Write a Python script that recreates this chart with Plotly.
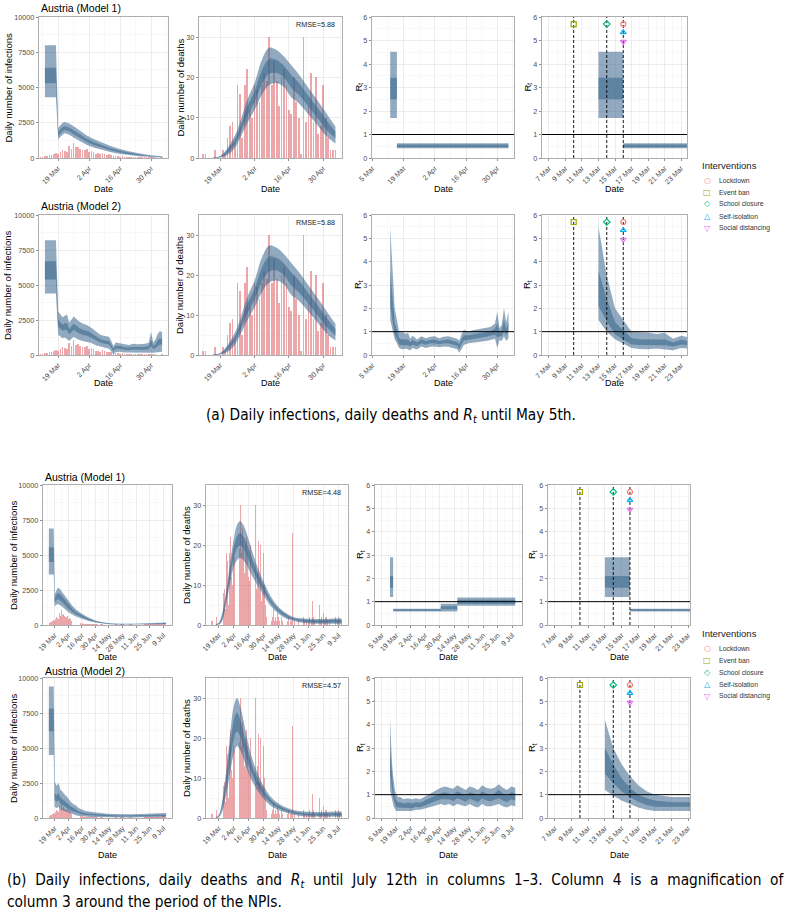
import plotly.graph_objects as go
import pandas as pd

W, H = 791, 916
FONT = "Liberation Sans, Arial, Helvetica, sans-serif"
CAPFONT = "Liberation Sans Narrow, DejaVu Sans Condensed, Liberation Sans, sans-serif"


def D(s):
    return "2020-" + s


def Ds(lst):
    return [D(s) for s in lst]


# ---------------- observed data ----------------
cases_start = "03-11"
cases = [60, 100, 130, 150, 190, 200, 300, 330, 310, 420, 560, 520, 400, 850, 620, 1050, 750, 800, 660, 600, 580,
         630, 420, 520, 400, 280, 320, 250, 330, 300, 240, 250, 180, 110, 130, 160, 90, 110, 80, 60, 70, 80, 70, 60,
         50, 60, 40, 50, 40, 60, 40,
         40, 45, 30, 35, 40, 50, 45, 35, 40, 30, 25, 30, 40, 45, 35, 30, 25, 20, 30, 35, 40, 45, 35, 30, 25, 40, 55,
         50, 45, 30, 25,
         20, 25, 30, 40, 45, 50, 35, 30, 35, 40, 45, 50, 40, 35, 40, 30, 45, 50, 60, 55, 40, 45, 60, 70, 65, 50, 60,
         80, 70, 55,
         75, 90, 110, 100, 80, 85, 100, 120, 130, 110, 95, 100]

deaths_start = "03-12"
deaths = [1, 1, 0, 0, 0, 2, 0, 0, 2, 1, 5, 8, 9, 4, 18, 16, 5, 18, 22, 12,
          10, 18, 17, 14, 18, 21, 19, 30, 18, 24, 19, 13, 20, 22, 18, 12, 11, 20, 14, 10, 1, 30, 9, 13, 21, 9, 20,
          6, 8, 18,
          10, 5, 2, 2, 2, 3, 1, 2, 4, 1, 2, 1, 3, 2, 1, 0, 2, 1, 2, 1, 0, 1, 2, 0, 1, 1, 23, 0, 1, 0, 0,
          0, 1, 0, 1, 0, 2, 1, 0, 1, 0, 1, 2, 0, 1, 6, 2, 1, 0, 2, 1, 5, 1, 2, 0, 3, 1, 2, 2, 1, 0,
          1, 2, 0, 1, 1, 2, 0, 1, 2, 1, 0, 1]

cut_a = "2020-05-05"   # end of period (a)

# ---------------- model estimates ----------------
# (a) Model 1 infections
inf_a1_dates = ["03-13", "03-18", "03-19", "03-20", "03-21", "03-22", "03-24", "03-26", "03-29", "04-01", "04-04",
                "04-08", "04-12", "04-16", "04-20", "04-25", "04-30", "05-05"]
inf_a1_lo95 = [4300, 4300, 1330, 1500, 1650, 1750, 1650, 1450, 1180, 930, 740, 560, 400, 280, 190, 120, 70, 40]
inf_a1_lo50 = [5300, 5300, 1580, 1750, 1900, 1990, 1890, 1690, 1400, 1130, 920, 720, 530, 390, 270, 180, 105, 65]
inf_a1_hi50 = [6400, 6400, 1860, 2050, 2200, 2270, 2170, 1970, 1650, 1370, 1140, 900, 680, 510, 370, 250, 150, 95]
inf_a1_hi95 = [8000, 8000, 2150, 2350, 2500, 2550, 2450, 2250, 1900, 1600, 1350, 1080, 830, 640, 470, 320, 190, 120]

# (a) Model 2 infections
inf_a2_dates = ["03-13", "03-18", "03-19", "03-20", "03-21", "03-22", "03-23", "03-24", "03-25", "03-26", "03-27",
                "03-28", "03-30", "04-01", "04-03", "04-05", "04-07", "04-09", "04-11", "04-12", "04-13", "04-14",
                "04-16", "04-18", "04-20", "04-22", "04-24", "04-26", "04-28", "04-29", "04-30", "05-01", "05-02",
                "05-03", "05-04", "05-05"]
inf_a2_hi95 = [8200, 8200, 3100, 2900, 2700, 2800, 2900, 2300, 2550, 2750, 2600, 2450, 2250, 2150, 1950, 1700, 1450,
               1350, 1300, 1000, 650, 900, 850, 750, 720, 800, 760, 780, 820, 900, 1650, 900, 1100, 1500, 1700, 1650]
inf_a2_lo95 = [4400, 4400, 1450, 1300, 1200, 1250, 1150, 1000, 1150, 1300, 1200, 1100, 1000, 950, 850, 700, 600, 520,
               450, 250, 60, 200, 240, 180, 170, 180, 170, 170, 180, 160, 120, 160, 170, 200, 240, 230]
inf_a2_lo50 = [5400, 5400, 2030, 1860, 1730, 1790, 1760, 1460, 1640, 1810, 1690, 1570, 1440, 1370, 1240, 1050, 900,
               810, 750, 510, 270, 450, 450, 380, 360, 400, 380, 380, 400, 420, 650, 420, 500, 650, 750, 730]
inf_a2_hi50 = [6700, 6700, 2520, 2340, 2180, 2260, 2290, 1850, 2060, 2240, 2110, 1980, 1810, 1730, 1570, 1350, 1150,
               1060, 1000, 740, 440, 660, 640, 550, 530, 580, 550, 570, 600, 640, 1110, 640, 770, 1050, 1190, 1150]

# (a) deaths (both models)
dea_a_dates = ["03-16", "03-19", "03-22", "03-24", "03-26", "03-30", "04-02", "04-05", "04-08", "04-11", "04-14",
               "04-17", "04-20", "04-24", "04-28", "05-02", "05-05"]
dea_a_hi95 = [0.1, 0.5, 2.5, 4.5, 7.0, 14.4, 18.6, 24.4, 27.4, 26.8, 25.2, 23.0, 20.8, 17.4, 14.0, 10.4, 7.8]
dea_a_hi50 = [0.07, 0.38, 2.0, 3.7, 5.9, 12.7, 16.6, 21.8, 24.6, 24.3, 22.9, 20.6, 18.7, 15.4, 12.2, 8.8, 6.5]
dea_a_lo50 = [0.03, 0.22, 1.3, 2.6, 4.6, 10.3, 13.9, 18.3, 20.9, 21.1, 19.9, 17.4, 15.7, 12.8, 9.7, 6.6, 4.9]
dea_a_lo95 = [0.0, 0.1, 0.8, 1.8, 3.6, 8.6, 11.9, 15.7, 18.1, 18.6, 17.6, 15.0, 13.6, 10.8, 7.9, 5.0, 3.6]

# (a) Model 1 Rt (piecewise constant)
rt_a1_dates = ["03-13", "03-16", "05-05"]
rt_a1_lo95 = [1.7, 0.41, 0.41]
rt_a1_lo50 = [2.5, 0.46, 0.46]
rt_a1_hi50 = [3.42, 0.57, 0.57]
rt_a1_hi95 = [4.52, 0.63, 0.63]

# (a) Model 2 Rt
rt_a2_dates = ["03-13", "03-14", "03-15", "03-16", "03-17", "03-18", "03-19", "03-20", "03-21", "03-22", "03-23",
               "03-24", "03-25", "03-27", "03-29", "03-31", "04-02", "04-04", "04-06", "04-08", "04-10", "04-12",
               "04-13", "04-14", "04-15", "04-17", "04-19", "04-21", "04-23", "04-25", "04-27", "04-29", "04-30",
               "05-01", "05-02", "05-03", "05-04", "05-05"]
rt_a2_hi95 = [5.5, 3.4, 2.0, 1.5, 1.0, 0.98, 0.96, 0.9, 0.95, 0.7, 0.82, 0.75, 0.66, 0.8, 0.72, 0.78, 0.8, 0.72, 0.78,
              0.8, 0.74, 0.7, 0.62, 0.9, 1.08, 1.0, 1.06, 1.1, 1.12, 1.15, 1.2, 1.35, 1.85, 1.15, 1.3, 2.0, 1.4, 1.85]
rt_a2_lo95 = [1.5, 1.0, 0.67, 0.5, 0.3, 0.26, 0.25, 0.28, 0.25, 0.2, 0.3, 0.26, 0.24, 0.36, 0.3, 0.35, 0.36, 0.33,
              0.36, 0.35, 0.3, 0.25, 0.1, 0.3, 0.43, 0.5, 0.52, 0.55, 0.58, 0.6, 0.64, 0.7, 0.3, 0.64, 0.6, 0.8, 0.6,
              0.72]
rt_a2_lo50 = [2.1, 1.45, 0.88, 0.68, 0.45, 0.43, 0.43, 0.44, 0.42, 0.36, 0.45, 0.42, 0.38, 0.5, 0.44, 0.5, 0.5, 0.46,
              0.5, 0.5, 0.45, 0.4, 0.25, 0.48, 0.62, 0.66, 0.7, 0.72, 0.75, 0.78, 0.82, 0.88, 0.75, 0.8, 0.8, 1.05,
              0.85, 1.0]
rt_a2_hi50 = [3.6, 2.4, 1.4, 1.05, 0.72, 0.68, 0.66, 0.66, 0.66, 0.55, 0.65, 0.6, 0.55, 0.66, 0.6, 0.64, 0.66, 0.6,
              0.64, 0.66, 0.6, 0.56, 0.45, 0.7, 0.85, 0.84, 0.88, 0.92, 0.95, 0.98, 1.02, 1.12, 1.35, 1.0, 1.05, 1.5,
              1.1, 1.4]

# (b) Model 1 infections
inf_b1_dates = ["03-13", "03-18", "03-19", "03-20", "03-22", "03-24", "03-27", "03-30", "04-02", "04-06", "04-10",
                "04-16", "04-23", "04-30", "05-07", "05-14", "05-21", "05-31", "06-10", "06-20", "06-30", "07-06",
                "07-12"]
inf_b1_hi95 = [6900, 6900, 2200, 2400, 2650, 2600, 2350, 2050, 1770, 1400, 1100, 810, 530, 330, 200, 130, 100, 90,
               95, 110, 130, 150, 170]
inf_b1_hi50 = [5550, 5550, 1900, 2080, 2290, 2250, 2030, 1760, 1500, 1180, 930, 680, 440, 270, 165, 105, 78, 68, 75,
               85, 100, 115, 130]
inf_b1_lo50 = [4500, 4500, 1570, 1700, 1840, 1790, 1610, 1380, 1180, 950, 750, 550, 350, 210, 130, 80, 55, 45, 50,
               55, 65, 80, 90]
inf_b1_lo95 = [3600, 3600, 1300, 1400, 1500, 1450, 1300, 1100, 930, 750, 600, 450, 280, 170, 100, 60, 40, 30, 35, 40,
               50, 60, 70]

# (b) Model 2 infections
inf_b2_dates = ["03-13", "03-18", "03-19", "03-21", "03-23", "03-25", "03-27", "03-29", "04-01", "04-04", "04-07",
                "04-10", "04-13", "04-16", "04-20", "04-25", "04-30", "05-05", "05-12", "05-20", "05-28", "06-05",
                "06-15", "06-25", "07-05", "07-12"]
inf_b2_hi95 = [9400, 9400, 2600, 2300, 2500, 2000, 1900, 1700, 1500, 1200, 1000, 900, 700, 600, 500, 450, 400, 350,
               300, 280, 250, 260, 280, 300, 330, 350]
inf_b2_hi50 = [7800, 7800, 1800, 1600, 1800, 1450, 1350, 1200, 1050, 850, 700, 600, 470, 400, 340, 300, 270, 240,
               210, 190, 180, 180, 190, 205, 225, 240]
inf_b2_lo50 = [6200, 6200, 1300, 1150, 1300, 1000, 950, 850, 700, 560, 470, 400, 310, 260, 220, 190, 170, 150, 130,
               115, 110, 110, 120, 130, 140, 150]
inf_b2_lo95 = [4500, 4500, 800, 700, 800, 600, 550, 500, 400, 300, 250, 200, 150, 120, 100, 80, 70, 60, 50, 40, 40,
               40, 45, 50, 55, 60]

# (b) deaths
dea_b_dates = ["03-16", "03-19", "03-22", "03-26", "03-30", "04-02", "04-05", "04-08", "04-11", "04-14", "04-18",
               "04-23", "04-30", "05-07", "05-14", "05-21", "05-28", "06-07", "06-17", "06-27", "07-05", "07-12"]
dea_b1_hi95 = [0.1, 0.6, 2.8, 8.7, 16.5, 21.5, 25, 26, 25, 23, 19.5, 15.4, 10.8, 7, 4.5, 3, 2.0, 1.6, 1.5, 1.5, 1.6,
               1.7]
dea_b1_hi50 = [0.07, 0.45, 2.2, 7.7, 14.8, 19.5, 22.2, 23.0, 22.1, 20.4, 17.5, 13.9, 9.8, 6.2, 4.0, 2.6, 1.7, 1.3,
               1.2, 1.2, 1.3, 1.4]
dea_b1_lo50 = [0.03, 0.25, 1.5, 6.5, 12.7, 16.8, 19.2, 19.9, 19.1, 17.6, 14.8, 12, 8.4, 5.4, 3.3, 2.0, 1.3, 0.8, 0.6,
               0.6, 0.6, 0.6]
dea_b1_lo95 = [0, 0.1, 0.9, 5.5, 11, 14.5, 16.2, 16.8, 16.2, 15, 12.8, 10.5, 7.4, 4.6, 2.8, 1.6, 1.0, 0.5, 0.3, 0.3,
               0.3, 0.3]
dea_b2_hi95 = [0.1, 0.8, 4.0, 12, 22, 28, 30, 28, 24.5, 20.5, 16, 12, 8, 5.2, 3.6, 2.6, 2.0, 1.6, 1.5, 1.5, 1.6, 1.7]
dea_b2_hi50 = [0.07, 0.6, 3.2, 10.2, 19, 24.4, 26.4, 24.6, 21.5, 18.0, 14.1, 10.6, 7.0, 4.5, 3.1, 2.2, 1.6, 1.2, 1.1,
               1.1, 1.2, 1.3]
dea_b2_lo50 = [0.03, 0.4, 2.3, 7.8, 15, 19.6, 21.6, 20.4, 17.8, 14.9, 11.6, 8.7, 5.7, 3.7, 2.5, 1.7, 1.2, 0.8, 0.6,
               0.6, 0.6, 0.6]
dea_b2_lo95 = [0, 0.2, 1.5, 6.0, 12, 16, 18, 17, 15, 12.5, 9.8, 7.4, 4.8, 3.0, 2.0, 1.3, 0.8, 0.4, 0.3, 0.3, 0.3, 0.3]

# (b) Model 1 Rt (piecewise constant)
rt_b1_dates = ["03-13", "03-16", "05-01", "05-17", "07-12"]
rt_b1_lo95 = [1.2, 0.58, 0.58, 0.83, 0.83]
rt_b1_lo50 = [1.6, 0.61, 0.68, 0.91, 0.91]
rt_b1_hi50 = [2.1, 0.67, 0.8, 1.08, 1.08]
rt_b1_hi95 = [2.9, 0.7, 0.91, 1.18, 1.18]

# (b) Model 2 Rt
rt_b2_dates = ["03-13", "03-14", "03-15", "03-16", "03-17", "03-18", "03-19", "03-21", "03-23", "03-26", "03-30",
               "04-03", "04-07", "04-11", "04-15", "04-19", "04-23", "04-27", "05-01", "05-05", "05-09", "05-13",
               "05-17", "05-21", "05-25", "05-29", "06-02", "06-06", "06-10", "06-14", "06-18", "06-22", "06-26",
               "06-30", "07-04", "07-08", "07-12"]
rt_b2_hi95 = [4.2, 3.0, 2.3, 1.8, 1.4, 1.15, 1.0, 0.9, 0.9, 0.8, 0.85, 0.8, 0.85, 0.8, 0.9, 1.0, 1.1, 1.2, 1.3, 1.35,
              1.3, 1.25, 1.4, 1.3, 1.2, 1.35, 1.3, 1.2, 1.4, 1.3, 1.25, 1.3, 1.45, 1.3, 1.2, 1.35, 1.3]
rt_b2_hi50 = [3.0, 2.3, 1.7, 1.3, 1.0, 0.85, 0.75, 0.68, 0.68, 0.62, 0.66, 0.62, 0.68, 0.65, 0.72, 0.82, 0.9, 0.98,
              1.05, 1.1, 1.05, 1.0, 1.15, 1.05, 0.95, 1.1, 1.05, 0.95, 1.15, 1.05, 1.0, 1.05, 1.2, 1.05, 0.95, 1.1,
              1.05]
rt_b2_lo50 = [1.9, 1.5, 1.15, 0.9, 0.7, 0.56, 0.48, 0.45, 0.45, 0.42, 0.45, 0.42, 0.48, 0.46, 0.52, 0.6, 0.67, 0.74,
              0.8, 0.8, 0.8, 0.72, 0.85, 0.78, 0.7, 0.82, 0.75, 0.68, 0.85, 0.75, 0.72, 0.78, 0.85, 0.75, 0.68, 0.8,
              0.75]
rt_b2_lo95 = [1.2, 0.95, 0.75, 0.6, 0.45, 0.35, 0.3, 0.3, 0.3, 0.3, 0.3, 0.3, 0.35, 0.35, 0.4, 0.45, 0.5, 0.55, 0.6,
              0.55, 0.6, 0.5, 0.6, 0.55, 0.5, 0.6, 0.5, 0.45, 0.6, 0.5, 0.5, 0.55, 0.6, 0.5, 0.45, 0.55, 0.5]

# interventions
interventions = ["Lockdown", "Event ban", "School closure", "Self-isolation", "Social distancing"]
int_dates = ["03-16", "03-10", "03-14", "03-16", "03-16"]
int_level = [5.7, 5.7, 5.7, 5.35, 4.95]
int_colors = ["#F8766D", "#A3A500", "#00BF7D", "#00B0F6", "#E76BF3"]
int_symbols = ["circle-open", "square-open", "diamond-open", "triangle-up-open", "triangle-down-open"]
int_glyphs = ["\u25CB", "\u25A1", "\u25C7", "\u25B3", "\u25BD"]

rmse = [["5.88", "5.88"], ["4.48", "4.57"]]

# tick labels
ticks_a12 = ["03-19", "04-02", "04-16", "04-30"]
lab_a12 = ["19 Mar", "2 Apr", "16 Apr", "30 Apr"]
minor_a = ["03-12", "03-26", "04-09", "04-23", "05-07"]
ticks_a3 = ["03-05"] + ticks_a12
lab_a3 = ["5 Mar"] + lab_a12
ticks_c4 = ["03-07", "03-09", "03-11", "03-13", "03-15", "03-17", "03-19", "03-21", "03-23"]
lab_c4 = ["7 Mar", "9 Mar", "11 Mar", "13 Mar", "15 Mar", "17 Mar", "19 Mar", "21 Mar", "23 Mar"]
minor_c4 = ["03-08", "03-10", "03-12", "03-14", "03-16", "03-18", "03-20", "03-22"]
ticks_b12 = ["03-19", "04-02", "04-16", "04-30", "05-14", "05-28", "06-11", "06-25", "07-09"]
lab_b12 = ["19 Mar", "2 Apr", "16 Apr", "30 Apr", "14 May", "28 May", "11 Jun", "25 Jun", "9 Jul"]
minor_b = ["03-12", "03-26", "04-09", "04-23", "05-07", "05-21", "06-04", "06-18", "07-02", "07-16"]
ticks_b3 = ["03-05"] + ticks_b12
lab_b3 = ["5 Mar"] + lab_b12
minor_b3 = ["02-27"] + minor_b

# ---------------- figure ----------------
BAND = "rgba(54,100,139,0.55)"
BAR = "rgba(222,104,110,0.58)"

fig = go.Figure()

col_px = {0: [(39, 168), (199, 342), (372, 514), (542, 687)],
          1: [(43, 172), (206, 348), (375, 522), (548, 690)]}
row_px = {0: [(17, 158), (215, 355)], 1: [(485, 625), (678, 818)]}

x_ranges = {
    (0, 0): ["2020-03-10 08:00", "2020-05-07 16:00"],
    (0, 1): ["2020-03-10 08:00", "2020-05-07 16:00"],
    (0, 2): ["2020-03-04 20:00", "2020-05-07 12:00"],
    (0, 3): ["2020-03-06 04:00", "2020-03-23 17:00"],
    (1, 0): ["2020-03-06 23:00", "2020-07-18 01:00"],
    (1, 1): ["2020-03-06 23:00", "2020-07-18 01:00"],
    (1, 2): ["2020-02-27 12:00", "2020-07-18 12:00"],
    (1, 3): ["2020-03-06 04:00", "2020-03-23 05:00"],
}
x_ticks = {
    (0, 0): (ticks_a12, lab_a12, minor_a), (0, 1): (ticks_a12, lab_a12, minor_a),
    (0, 2): (ticks_a3, lab_a3, minor_a), (0, 3): (ticks_c4, lab_c4, minor_c4),
    (1, 0): (ticks_b12, lab_b12, minor_b), (1, 1): (ticks_b12, lab_b12, minor_b),
    (1, 2): (ticks_b3, lab_b3, minor_b3), (1, 3): (ticks_c4, lab_c4, minor_c4),
}
y_specs = [
    ([0, 10000], [0, 2500, 5000, 7500, 10000], [1250, 3750, 6250, 8750]),
    ([0, 35], [0, 10, 20, 30], [5, 15, 25]),
    ([0, 6], [0, 1, 2, 3, 4, 5, 6], [0.5, 1.5, 2.5, 3.5, 4.5, 5.5]),
    ([0, 6], [0, 1, 2, 3, 4, 5, 6], [0.5, 1.5, 2.5, 3.5, 4.5, 5.5]),
]

AX = dict(showline=True, mirror=True, linecolor="#9A9A9A", linewidth=0.8, showgrid=True,
          gridcolor="#E6E6E6", gridwidth=0.7, zeroline=False, ticks="outside", ticklen=2.5,
          tickwidth=0.6, tickcolor="#444444", tickfont=dict(size=7.2, color="#4D4D4D", family=FONT),
          automargin=False)


def aid(g, r, c):
    return g * 8 + r * 4 + c + 1


def refs(n):
    return ("x" if n == 1 else f"x{n}"), ("y" if n == 1 else f"y{n}")


layout_axes = {}
for g in (0, 1):
    for r in (0, 1):
        for c in range(4):
            n = aid(g, r, c)
            x0, x1 = col_px[g][c]
            y0, y1 = row_px[g][r]
            tv, tt, mv = x_ticks[(g, c)]
            xa = dict(AX, domain=[x0 / W, x1 / W], anchor=refs(n)[1], type="date", range=x_ranges[(g, c)],
                      tickmode="array", tickvals=Ds(tv), ticktext=tt, tickangle=-45,
                      minor=dict(tickvals=Ds(mv), showgrid=True, gridcolor="#F2F2F2", gridwidth=0.5))
            yr, ytv, ymv = y_specs[c]
            ya = dict(AX, domain=[1 - y1 / H, 1 - y0 / H], anchor=refs(n)[0], range=yr, tickmode="array",
                      tickvals=ytv, ticktext=[str(v) for v in ytv],
                      minor=dict(tickvals=ymv, showgrid=True, gridcolor="#F2F2F2", gridwidth=0.5))
            layout_axes["xaxis" if n == 1 else f"xaxis{n}"] = xa
            layout_axes["yaxis" if n == 1 else f"yaxis{n}"] = ya
fig.update_layout(**layout_axes)


def band(n, dates, lo, hi, shape="linear"):
    xr, yr = refs(n)
    xs = Ds(dates)
    fig.add_trace(go.Scatter(x=xs, y=lo, mode="lines", line=dict(width=0, shape=shape), xaxis=xr, yaxis=yr,
                             showlegend=False, hoverinfo="skip"))
    fig.add_trace(go.Scatter(x=xs, y=hi, mode="lines", line=dict(width=0, shape=shape), fill="tonexty",
                             fillcolor=BAND, xaxis=xr, yaxis=yr, showlegend=False, hoverinfo="skip"))


def bars(n, start, vals, end=None):
    xr, yr = refs(n)
    xs = pd.date_range(D(start), periods=len(vals), freq="D")
    s = pd.Series(vals, index=xs)
    if end is not None:
        s = s[s.index <= end]
    fig.add_trace(go.Bar(x=s.index, y=s.values, marker=dict(color=BAR, line=dict(width=0)),
                         width=0.72 * 86400000, xaxis=xr, yaxis=yr, showlegend=False, hoverinfo="skip"))


panels = {
    (0, 0): dict(inf=(inf_a1_dates, inf_a1_lo95, inf_a1_lo50, inf_a1_hi50, inf_a1_hi95),
                 dea=(dea_a_dates, dea_a_lo95, dea_a_lo50, dea_a_hi50, dea_a_hi95),
                 rt=(rt_a1_dates, rt_a1_lo95, rt_a1_lo50, rt_a1_hi50, rt_a1_hi95), step=True),
    (0, 1): dict(inf=(inf_a2_dates, inf_a2_lo95, inf_a2_lo50, inf_a2_hi50, inf_a2_hi95),
                 dea=(dea_a_dates, dea_a_lo95, dea_a_lo50, dea_a_hi50, dea_a_hi95),
                 rt=(rt_a2_dates, rt_a2_lo95, rt_a2_lo50, rt_a2_hi50, rt_a2_hi95), step=False),
    (1, 0): dict(inf=(inf_b1_dates, inf_b1_lo95, inf_b1_lo50, inf_b1_hi50, inf_b1_hi95),
                 dea=(dea_b_dates, dea_b1_lo95, dea_b1_lo50, dea_b1_hi50, dea_b1_hi95),
                 rt=(rt_b1_dates, rt_b1_lo95, rt_b1_lo50, rt_b1_hi50, rt_b1_hi95), step=True),
    (1, 1): dict(inf=(inf_b2_dates, inf_b2_lo95, inf_b2_lo50, inf_b2_hi50, inf_b2_hi95),
                 dea=(dea_b_dates, dea_b2_lo95, dea_b2_lo50, dea_b2_hi50, dea_b2_hi95),
                 rt=(rt_b2_dates, rt_b2_lo95, rt_b2_lo50, rt_b2_hi50, rt_b2_hi95), step=False),
}

shapes = []
annotations = []


def ann(text, x, y, size, **kw):
    d = dict(text=text, x=x / W, y=1 - y / H, xref="paper", yref="paper", showarrow=False,
             font=dict(size=size, family=kw.pop("family", FONT), color=kw.pop("color", "black")))
    d.update(kw)
    annotations.append(d)


for (g, r), p in panels.items():
    end = cut_a if g == 0 else None
    # col 1: infections
    n = aid(g, r, 0)
    bars(n, cases_start, cases, end)
    dts, lo95, lo50, hi50, hi95 = p["inf"]
    band(n, dts, lo95, hi95)
    band(n, dts, lo50, hi50)
    # col 2: deaths
    n = aid(g, r, 1)
    bars(n, deaths_start, deaths, end)
    dts, lo95, lo50, hi50, hi95 = p["dea"]
    band(n, dts, lo95, hi95, "spline")
    band(n, dts, lo50, hi50, "spline")
    xr, yr = refs(n)
    annotations.append(dict(text="RMSE=" + rmse[g][r], x=0.965, y=0.995, xref=f"{xr} domain",
                            yref=f"{yr} domain", xanchor="right", yanchor="top", showarrow=False,
                            font=dict(size=7.2, family=FONT, color="#222222")))
    # col 3 and 4: Rt
    shape = "hv" if p["step"] else "linear"
    dts, lo95, lo50, hi50, hi95 = p["rt"]
    for c in (2, 3):
        n = aid(g, r, c)
        band(n, dts, lo95, hi95, shape)
        band(n, dts, lo50, hi50, shape)
        xr, yr = refs(n)
        shapes.append(dict(type="line", xref=f"{xr} domain", yref=yr, x0=0, x1=1, y0=1, y1=1,
                           line=dict(color="black", width=1)))
    # col 4 interventions
    n = aid(g, r, 3)
    xr, yr = refs(n)
    for d in sorted(set(int_dates)):
        fig.add_trace(go.Scatter(x=[D(d), D(d)], y=[0, 6], mode="lines",
                                 line=dict(color="black", width=0.9, dash="3px,2px"),
                                 xaxis=xr, yaxis=yr, showlegend=False, hoverinfo="skip"))
    for name, d, lv, col, sym in zip(interventions, int_dates, int_level, int_colors, int_symbols):
        fig.add_trace(go.Scatter(x=[D(d)], y=[lv], mode="markers", name=name,
                                 marker=dict(symbol=sym, size=5, color=col, line=dict(width=1.2, color=col)),
                                 xaxis=xr, yaxis=yr, showlegend=False, hoverinfo="skip"))

# panel titles & axis titles
title_y = {(0, 0): 8, (0, 1): 206, (1, 0): 477, (1, 1): 671}
date_y = {(0, 0): 189, (0, 1): 383, (1, 0): 657, (1, 1): 855}
ylab_x = {0: [8, 180, 358, 527], 1: [13, 186, 360, 532]}
ylabs = ["Daily number of infections", "Daily number of deaths", "R<sub>t</sub>", "R<sub>t</sub>"]
for (g, r), ty in title_y.items():
    ann(f"Austria (Model {r + 1})", col_px[g][0][0], ty, 10.5, xanchor="left", yanchor="middle")
    y0, y1 = row_px[g][r]
    for c in range(4):
        x0, x1 = col_px[g][c]
        ann("Date", (x0 + x1) / 2, date_y[(g, r)], 9, xanchor="center", yanchor="middle")
        ann(ylabs[c], ylab_x[g][c], (y0 + y1) / 2, 9.5, xanchor="center", yanchor="middle", textangle=-90)

# legends
for ly in (165, 633):
    ann("Interventions", 700, ly, 9.5, xanchor="left", yanchor="middle", color="#222222")
    for i, (name, col, gl) in enumerate(zip(interventions, int_colors, int_glyphs)):
        yy = ly + 15 + 12 * i
        ann(gl, 707, yy, 8, xanchor="center", yanchor="middle", color=col, family="DejaVu Sans")
        ann(name, 717, yy, 6.8, xanchor="left", yanchor="middle", color="#333333")

# captions
NB = " \u00a0"
CS = 15.3
ann("(a) Daily infections, daily deaths and <i>R<sub>t</sub></i> until May 5th.", 391, 416, CS,
    xanchor="center", yanchor="middle", family=CAPFONT)
cap_b1 = ("(b) Daily infections, daily deaths and <i>R<sub>t</sub></i> until July 12th in columns 1\u20133. "
          "Column 4 is a magnification of")
ann(cap_b1.replace(" ", NB), 5, 881, CS, xanchor="left", yanchor="middle", family=CAPFONT)
ann("column 3 around the period of the NPIs.", 5, 902, CS, xanchor="left", yanchor="middle", family=CAPFONT)

fig.update_layout(width=W, height=H, margin=dict(l=0, r=0, t=0, b=0, pad=0, autoexpand=False),
                  paper_bgcolor="white", plot_bgcolor="white", showlegend=False, barmode="overlay", bargap=0,
                  shapes=shapes, annotations=annotations, font=dict(family=FONT), hovermode=False)

fig.write_html("out.html", config={"displayModeBar": False, "staticPlot": True},
               post_script="document.body.style.margin='0px';")
